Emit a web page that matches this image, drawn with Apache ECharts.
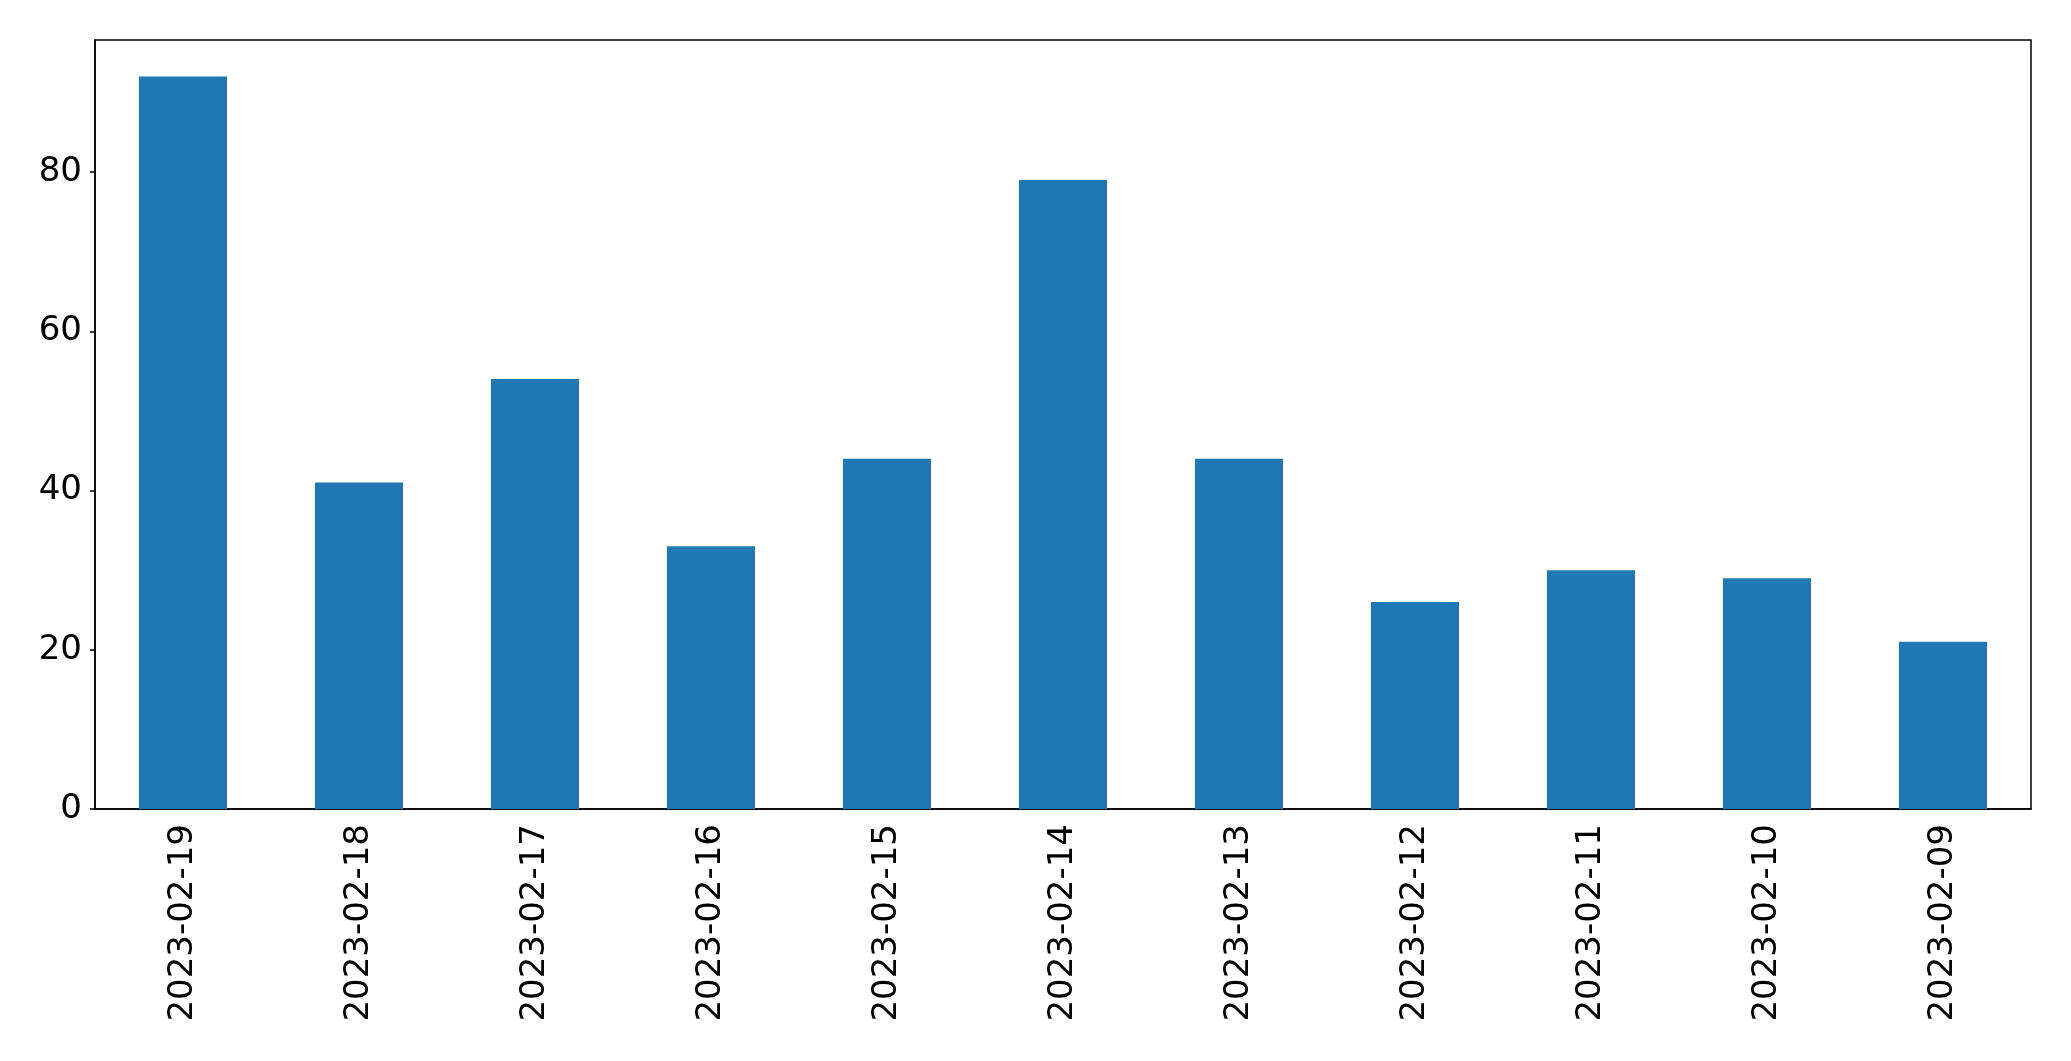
<!DOCTYPE html>
<html>
<head>
<meta charset="utf-8">
<script src="https://cdn.jsdelivr.net/npm/echarts@6/dist/echarts.min.js"></script>
<style>
  html, body { margin: 0; padding: 0; background: #fff; }
  #chart { width: 2071px; height: 1061px; }
</style>
</head>
<body>
<div id="chart"></div>
<script>
const 日期 = ["2023-02-19", "2023-02-18", "2023-02-17", "2023-02-16", "2023-02-15", "2023-02-14",
  "2023-02-13", "2023-02-12", "2023-02-11", "2023-02-10", "2023-02-09"];
const 数量 = [92, 41, 54, 33, 44, 79, 44, 26, 30, 29, 21];
const 纵轴刻度 = [0, 20, 40, 60, 80];
const 纵轴上限 = 96.6;

const myChart = echarts.init(document.getElementById("chart"));

const option = {
  animation: false,
  backgroundColor: "#fff",
  textStyle: { fontFamily: "DejaVu Sans" },
  grid: {
    left: 95, right: 40, top: 40, bottom: 252,
    show: true, borderColor: "#000", borderWidth: 1.5,
    containLabel: false,
  },
  xAxis: {
    type: "category",
    data: 日期,
    axisLine: { lineStyle: { color: "#000", width: 1.5 } },
    axisTick: { alignWithLabel: true, length: 5, lineStyle: { color: "#000", width: 1.5 } },
    axisLabel: { rotate: 90, margin: 15, fontSize: 34, color: "#000", fontFamily: "DejaVu Sans" },
  },
  yAxis: {
    type: "value",
    min: 0,
    max: 纵轴上限,
    splitLine: { show: false },
    axisLine: { show: true, lineStyle: { color: "#000", width: 1.5 } },
    axisTick: { show: true, length: 5, customValues: 纵轴刻度, lineStyle: { color: "#000", width: 1.5 } },
    axisLabel: { margin: 13, fontSize: 34, color: "#000", fontFamily: "DejaVu Sans", customValues: 纵轴刻度 },
  },
  series: [
    {
      type: "bar",
      data: 数量,
      barWidth: "50%",
      itemStyle: { color: "#1f77b4" },
    },
  ],
};

myChart.setOption(option);
</script>
</body>
</html>
